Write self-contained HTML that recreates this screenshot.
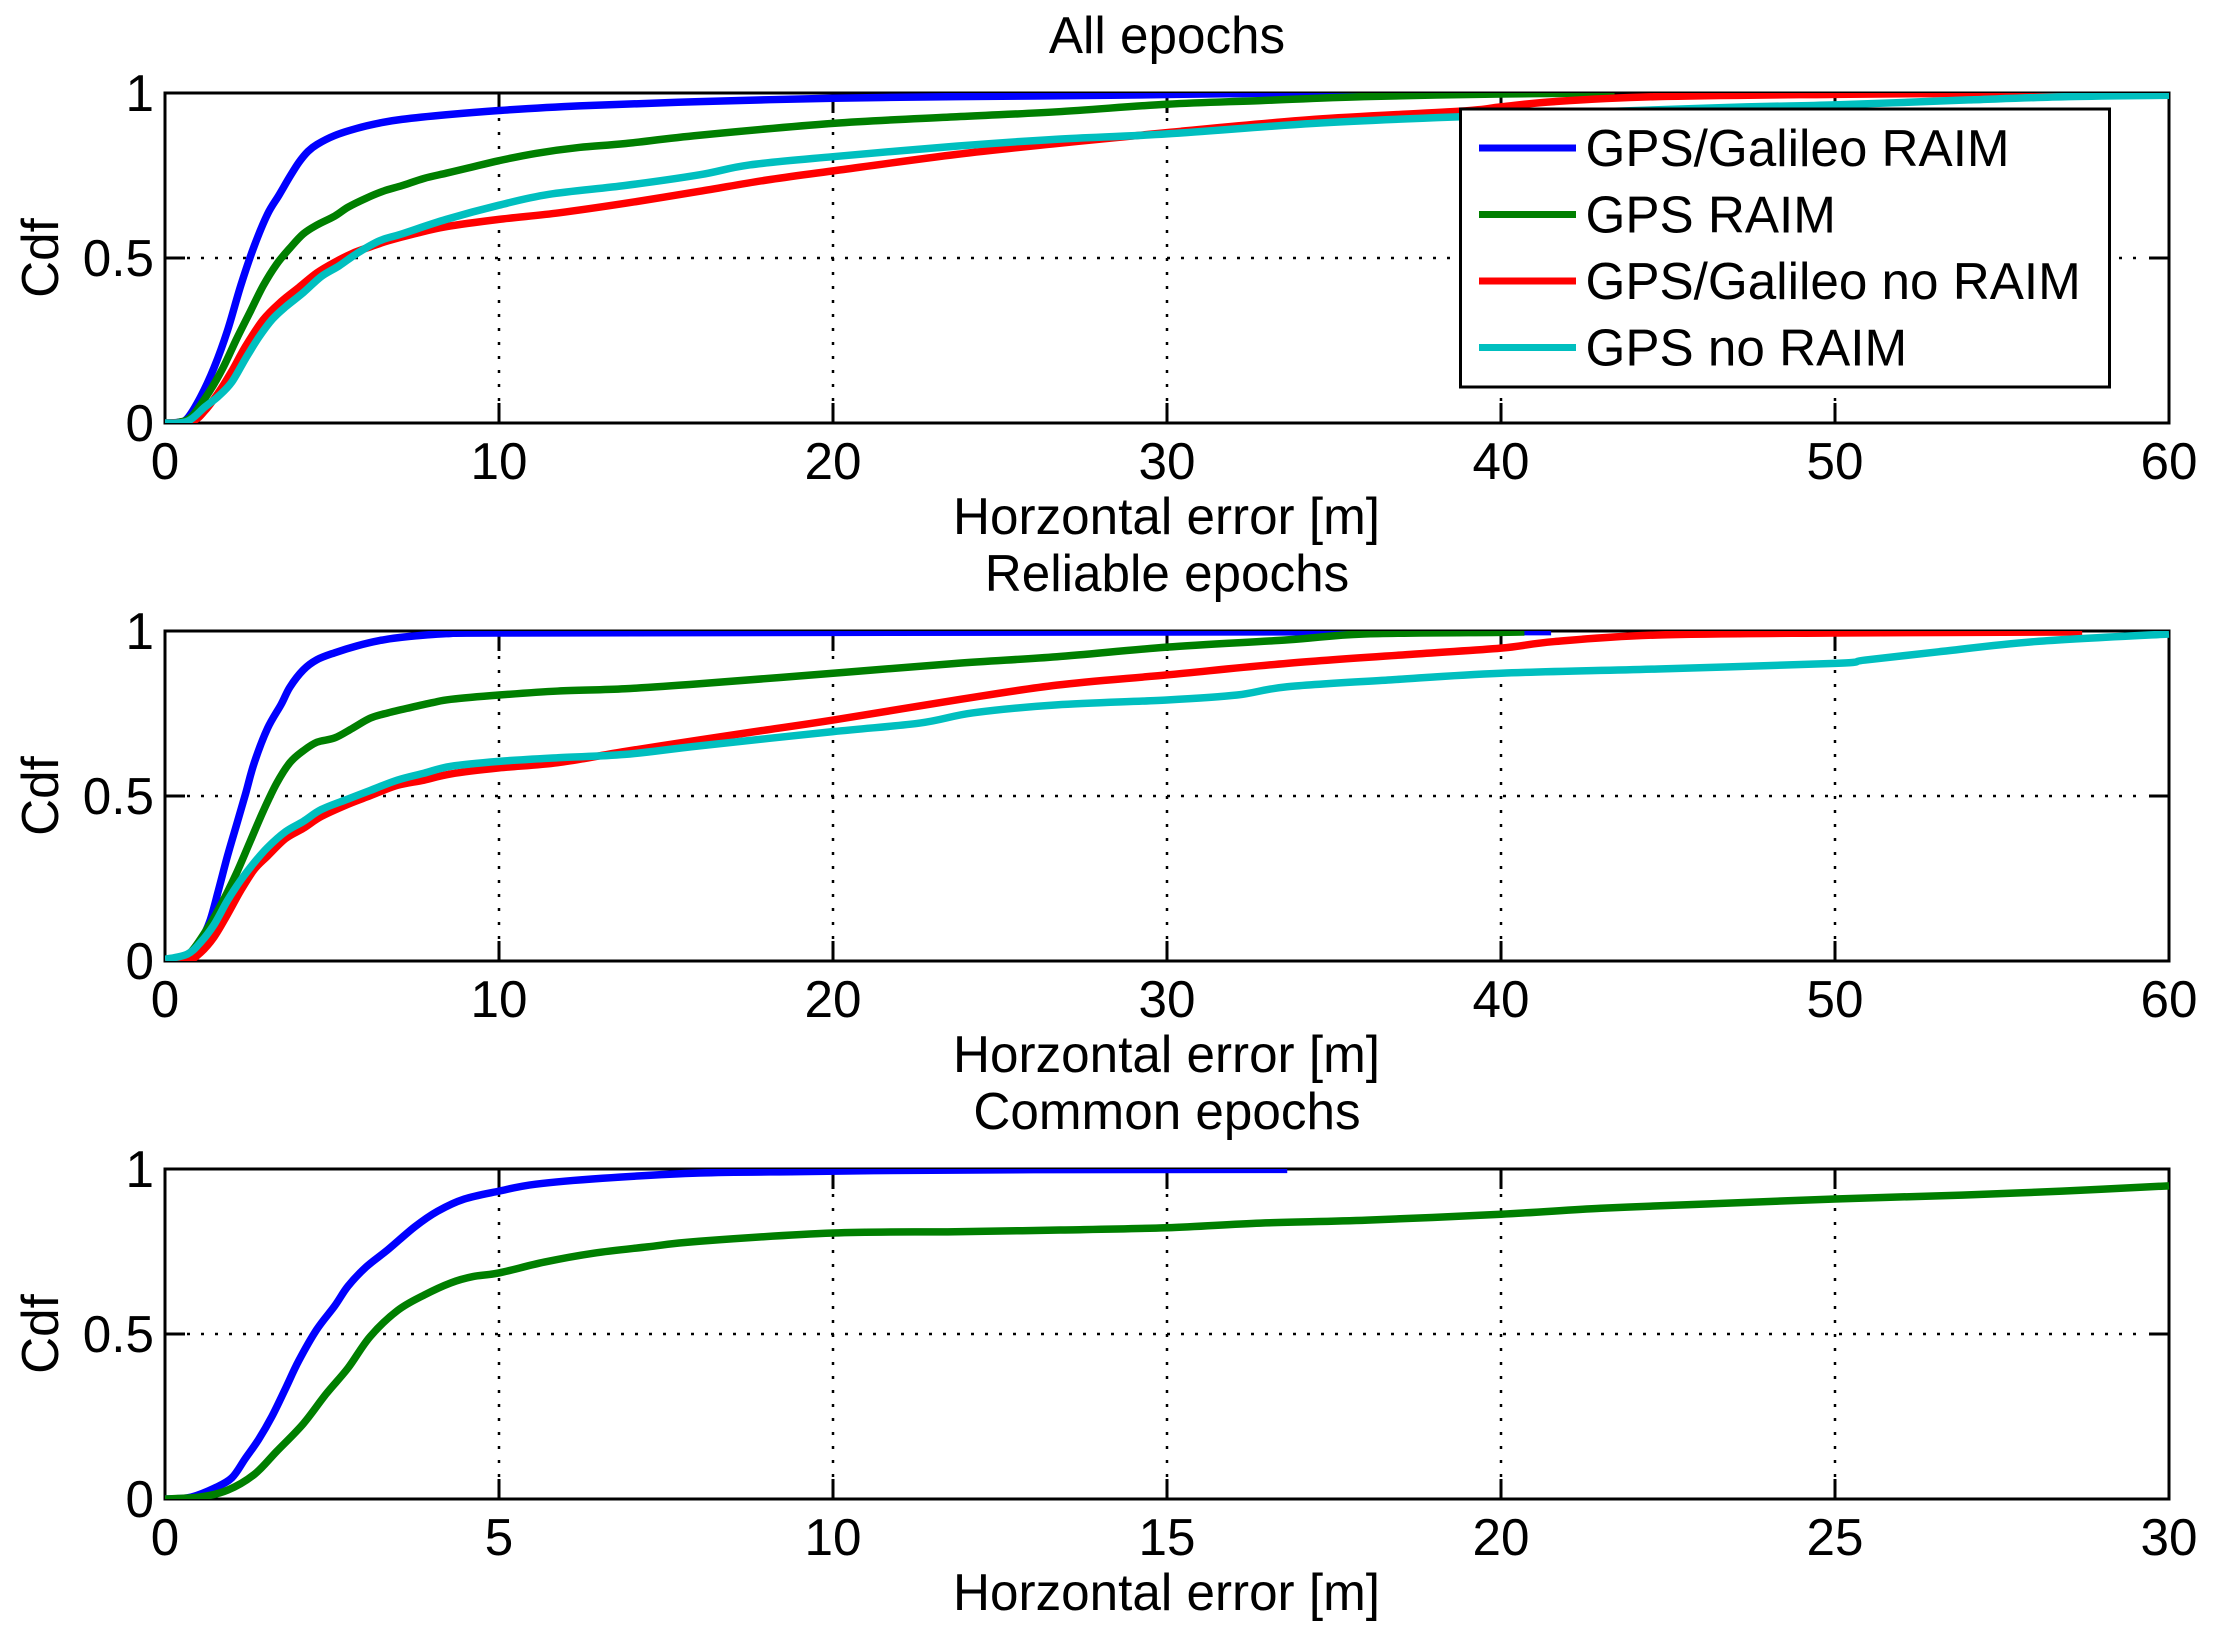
<!DOCTYPE html>
<html lang="en">
<head>
<meta charset="utf-8">
<title>Horizontal error CDF</title>
<style>
html,body{margin:0;padding:0;background:#fff;}
svg{display:block;}
text{font-family:"Liberation Sans",Arial,sans-serif;fill:#000;}
</style>
</head>
<body>
<svg id="chart" xmlns="http://www.w3.org/2000/svg" width="2213" height="1646" viewBox="0 0 2213 1646">
  <rect x="0" y="0" width="2213" height="1646" fill="#fff"/>
  <g id="panel-all"></g>
  <g id="panel-reliable"></g>
  <g id="panel-common"></g>

  <text transform="translate(1167,53) scale(0.985,1)" font-size="52" text-anchor="middle">All epochs</text>
  <text transform="translate(1167,591) scale(0.985,1)" font-size="52" text-anchor="middle">Reliable epochs</text>
  <text transform="translate(1167,1129) scale(0.985,1)" font-size="52" text-anchor="middle">Common epochs</text>

  <text transform="translate(1166.5,534) scale(0.985,1)" font-size="52" text-anchor="middle">Horzontal error [m]</text>
  <text transform="translate(1166.5,1072) scale(0.985,1)" font-size="52" text-anchor="middle">Horzontal error [m]</text>
  <text transform="translate(1166.5,1610) scale(0.985,1)" font-size="52" text-anchor="middle">Horzontal error [m]</text>

  <text transform="translate(58,258) rotate(-90) scale(0.985,1)" font-size="52" text-anchor="middle">Cdf</text>
  <text transform="translate(58,796) rotate(-90) scale(0.985,1)" font-size="52" text-anchor="middle">Cdf</text>
  <text transform="translate(58,1334) rotate(-90) scale(0.985,1)" font-size="52" text-anchor="middle">Cdf</text>

  <g>
    <rect x="1460.5" y="109" width="649" height="278" fill="#fff" stroke="#000" stroke-width="3"/>
    <g>
      <rect x="1479" y="144.5" width="97" height="7" fill="#0000ff"/>
      <text transform="translate(1585.5,166) scale(0.985,1)" font-size="52">GPS/Galileo RAIM</text>
    </g>
    <g>
      <rect x="1479" y="211" width="97" height="7" fill="#007f00"/>
      <text transform="translate(1585.5,232.5) scale(0.985,1)" font-size="52">GPS RAIM</text>
    </g>
    <g>
      <rect x="1479" y="277.5" width="97" height="7" fill="#ff0000"/>
      <text transform="translate(1585.5,299) scale(0.985,1)" font-size="52">GPS/Galileo no RAIM</text>
    </g>
    <g>
      <rect x="1479" y="344" width="97" height="7" fill="#00bfbf"/>
      <text transform="translate(1585.5,365.5) scale(0.985,1)" font-size="52">GPS no RAIM</text>
    </g>
  </g>
</svg>
<script>
// Axis tick labels
var xTicksWide = [0, 10, 20, 30, 40, 50, 60];
var xTicksCommon = [0, 5, 10, 15, 20, 25, 30];
var yTicks = [0, 0.5, 1];

// Panel 1: All epochs
var allBlueX = [0,0.4,0.67,1.07,1.47,1.87,2.27,2.67,3.07,3.41,3.74,4.01,4.28,4.55,5.08,5.75,6.42,7.09,8.42,10,12.4,16,20,23.7,28.3,32,36];
var allBlueY = [0,0.002,0.014,0.08,0.168,0.28,0.417,0.536,0.633,0.69,0.747,0.79,0.823,0.844,0.871,0.893,0.909,0.92,0.934,0.947,0.961,0.974,0.984,0.989,0.993,0.998,1];
var allGreenX = [0,0.4,0.8,1.34,1.74,2.14,2.54,2.94,3.34,3.74,4.14,4.55,5.08,5.48,6.02,6.55,7.09,7.75,8.42,9.09,10,11.1,12.4,13.8,16,20,23.7,26.7,30,32.8,35.9,40,43.4];
var allGreenY = [0,0.002,0.02,0.097,0.168,0.254,0.335,0.416,0.481,0.53,0.573,0.6,0.627,0.654,0.681,0.703,0.719,0.741,0.757,0.773,0.795,0.817,0.835,0.847,0.872,0.908,0.928,0.943,0.966,0.977,0.989,0.997,1];
var allRedX = [0,0.8,1.2,1.6,2,2.41,2.94,3.48,4.01,4.55,5.08,5.61,6.15,6.68,7.49,8.42,10,11.8,13.8,16,18,20,23.7,26.7,30,34.4,38.8,40,41.6,44.7,50,54,57];
var allRedY = [0,0.005,0.038,0.092,0.157,0.232,0.313,0.368,0.411,0.455,0.487,0.514,0.534,0.552,0.574,0.595,0.617,0.637,0.666,0.702,0.736,0.764,0.814,0.847,0.88,0.92,0.945,0.958,0.974,0.989,0.996,0.999,1];
var allCyanX = [0,0.67,1.2,1.6,2,2.41,2.81,3.21,3.61,4.14,4.68,5.21,5.75,6.42,7.09,8.42,10,11.5,13.8,16,17.5,20,23.7,26.7,30,34.4,38.5,46.4,50,54,57,60];
var allCyanY = [0,0.005,0.049,0.081,0.124,0.195,0.26,0.314,0.352,0.395,0.444,0.476,0.514,0.552,0.573,0.617,0.66,0.693,0.72,0.752,0.782,0.807,0.839,0.86,0.876,0.908,0.927,0.955,0.964,0.979,0.989,0.993];

// Panel 2: Reliable epochs
var relBlueX = [0,0.3,0.67,1.07,1.34,1.6,1.87,2.14,2.41,2.67,3.07,3.48,3.74,4.14,4.55,5.08,5.75,6.42,7.09,8.42,10,20,41.5];
var relBlueY = [0,0.003,0.016,0.063,0.12,0.214,0.318,0.412,0.506,0.6,0.705,0.778,0.83,0.882,0.913,0.934,0.955,0.971,0.981,0.992,0.994,0.996,0.998];
var relGreenX = [0,0.4,0.8,1.34,1.74,2.14,2.54,2.94,3.34,3.74,4.14,4.55,5.08,5.61,6.15,6.68,7.35,8.02,8.56,10,11.76,13.77,16,20,23.7,26.7,30,33.6,35.9,40,40.7];
var relGreenY = [0,0.005,0.03,0.11,0.183,0.266,0.36,0.454,0.538,0.601,0.637,0.663,0.676,0.705,0.736,0.752,0.768,0.783,0.793,0.806,0.818,0.825,0.84,0.872,0.902,0.922,0.951,0.973,0.991,0.996,0.997];
var relRedX = [0,0.67,1.07,1.47,1.87,2.27,2.67,3.07,3.61,4.14,4.68,5.48,6.15,6.95,7.75,8.56,10,11.76,13.77,16,18,20,23.7,26.7,30,33.6,37.4,40,41.6,44.7,50,57.4];
var relRedY = [0,0,0.026,0.073,0.141,0.214,0.277,0.318,0.371,0.402,0.438,0.475,0.501,0.532,0.548,0.567,0.585,0.601,0.635,0.67,0.7,0.73,0.791,0.836,0.867,0.902,0.93,0.948,0.968,0.988,0.994,0.997];
var relCyanX = [0,0.67,1.07,1.47,1.87,2.27,2.67,3.07,3.61,4.14,4.68,5.48,6.15,6.95,7.75,8.56,10,11.76,13.77,16,20,22.6,24.2,26.7,30,32.1,33.6,36.7,40,44.7,50,50.9,53.1,56,60];
var relCyanY = [0.005,0.021,0.057,0.11,0.183,0.245,0.298,0.344,0.392,0.423,0.459,0.491,0.517,0.548,0.569,0.59,0.605,0.616,0.626,0.652,0.695,0.721,0.752,0.776,0.791,0.806,0.831,0.852,0.872,0.885,0.902,0.912,0.937,0.968,0.991];

// Panel 3: Common epochs
var comBlueX = [0,0.2,0.4,0.74,1,1.2,1.4,1.6,1.8,2,2.27,2.54,2.74,3.01,3.34,3.74,4.08,4.48,5,5.55,6.55,8,9.5,10.6,13,16.8];
var comBlueY = [0,0.001,0.006,0.033,0.064,0.122,0.18,0.25,0.333,0.418,0.513,0.585,0.645,0.703,0.756,0.825,0.872,0.909,0.933,0.954,0.972,0.988,0.992,0.995,0.998,0.999];
var comGreenX = [0,0.53,0.94,1.34,1.67,2.07,2.41,2.74,3.07,3.48,3.88,4.28,4.61,5,5.68,6.42,7.22,8,10,11.83,13.4,15,16.4,18,20,21.5,23.07,25,26.9,28.4,30];
var comGreenY = [0,0.006,0.027,0.075,0.144,0.228,0.318,0.397,0.492,0.571,0.618,0.655,0.674,0.685,0.718,0.745,0.764,0.781,0.806,0.81,0.815,0.822,0.836,0.845,0.863,0.881,0.894,0.909,0.921,0.933,0.949];

// Axes layout
var plotLeft = 165;
var plotWidth = 2004;
var plotHeight = 330;
var SVGNS = 'http://www.w3.org/2000/svg';

function xScale(value, xMax) {
  return plotLeft + (value / xMax) * plotWidth;
}
function yScale(value, top) {
  return top + plotHeight - value * plotHeight;
}
function make(tag, attrs) {
  var el = document.createElementNS(SVGNS, tag);
  for (var key in attrs) { el.setAttribute(key, attrs[key]); }
  return el;
}
function drawCurve(group, clipId, xs, ys, xMax, top, color, name) {
  var px = xs.map(function (v) { return xScale(v, xMax); });
  var py = ys.map(function (v) { return yScale(v, top); });
  var n = px.length;
  var d = 'M' + px[0].toFixed(2) + ' ' + py[0].toFixed(2);
  for (var i = 0; i < n - 1; i++) {
    var a = Math.max(i - 1, 0), b = Math.min(i + 2, n - 1);
    var c1x = px[i] + (px[i + 1] - px[a]) / 6;
    var c1y = py[i] + (py[i + 1] - py[a]) / 6;
    var c2x = px[i + 1] - (px[b] - px[i]) / 6;
    var c2y = py[i + 1] - (py[b] - py[i]) / 6;
    d += 'C' + c1x.toFixed(2) + ' ' + c1y.toFixed(2) + ' ' + c2x.toFixed(2) + ' ' + c2y.toFixed(2) + ' ' + px[i + 1].toFixed(2) + ' ' + py[i + 1].toFixed(2);
  }
  var path = make('path', {d: d, fill: 'none', stroke: color, 'stroke-width': 7.5, 'stroke-linejoin': 'round', 'clip-path': 'url(#' + clipId + ')'});
  
  
  group.appendChild(path);
}
function drawAxes(group, clipId, ticks, xMax, top) {
  var defs = make('defs', {});
  var clip = make('clipPath', {id: clipId});
  clip.appendChild(make('rect', {x: plotLeft, y: top, width: plotWidth + 1, height: plotHeight}));
  defs.appendChild(clip);
  group.appendChild(defs);
  var bottom = top + plotHeight;
  var right = plotLeft + plotWidth;

  ticks.forEach(function (tick) {
    var x = xScale(tick, xMax);
    if (tick > 0 && tick < xMax) {
      var grid = make('line', {x1: x, x2: x, y1: bottom - 22, y2: top + 22, stroke: '#000', 'stroke-width': 2.5, 'stroke-dasharray': '3 11'});
      
      
      group.appendChild(grid);
      var tickLow = make('line', {x1: x, x2: x, y1: bottom, y2: bottom - 20, stroke: '#000', 'stroke-width': 3});
      
      
      group.appendChild(tickLow);
      var tickHigh = make('line', {x1: x, x2: x, y1: top, y2: top + 20, stroke: '#000', 'stroke-width': 3});
      
      
      group.appendChild(tickHigh);
    }
    var label = make('text', {transform: 'translate(' + x + ',' + (bottom + 56) + ') scale(0.985,1)', 'font-size': 52, 'text-anchor': 'middle'});
    
    
    label.textContent = String(tick);
    group.appendChild(label);
  });

  yTicks.forEach(function (tick) {
    var y = yScale(tick, top);
    if (tick > 0 && tick < 1) {
      var grid = make('line', {x1: plotLeft + 22, x2: right - 22, y1: y, y2: y, stroke: '#000', 'stroke-width': 2.5, 'stroke-dasharray': '3 11'});
      
      
      group.appendChild(grid);
      var tickLeft = make('line', {x1: plotLeft, x2: plotLeft + 20, y1: y, y2: y, stroke: '#000', 'stroke-width': 3});
      
      
      group.appendChild(tickLeft);
      var tickRight = make('line', {x1: right, x2: right - 20, y1: y, y2: y, stroke: '#000', 'stroke-width': 3});
      
      
      group.appendChild(tickRight);
    }
    var label = make('text', {transform: 'translate(154,' + (y + 18) + ') scale(0.985,1)', 'font-size': 52, 'text-anchor': 'end'});
    
    
    label.textContent = String(tick);
    group.appendChild(label);
  });

  var box = make('rect', {x: plotLeft, y: top, width: plotWidth, height: plotHeight, fill: 'none', stroke: '#000', 'stroke-width': 3});
  
  
  group.appendChild(box);
}

var blue = '#0000ff', green = '#007f00', red = '#ff0000', cyan = '#00bfbf';

var g1 = document.getElementById('panel-all');
drawAxes(g1, 'clip-all', xTicksWide, 60, 93);
drawCurve(g1, 'clip-all', allBlueX, allBlueY, 60, 93, blue, 'line-gps-galileo-raim');
drawCurve(g1, 'clip-all', allGreenX, allGreenY, 60, 93, green, 'line-gps-raim');
drawCurve(g1, 'clip-all', allRedX, allRedY, 60, 93, red, 'line-gps-galileo-no-raim');
drawCurve(g1, 'clip-all', allCyanX, allCyanY, 60, 93, cyan, 'line-gps-no-raim');

var g2 = document.getElementById('panel-reliable');
drawAxes(g2, 'clip-reliable', xTicksWide, 60, 631);
drawCurve(g2, 'clip-reliable', relBlueX, relBlueY, 60, 631, blue, 'line-gps-galileo-raim');
drawCurve(g2, 'clip-reliable', relGreenX, relGreenY, 60, 631, green, 'line-gps-raim');
drawCurve(g2, 'clip-reliable', relRedX, relRedY, 60, 631, red, 'line-gps-galileo-no-raim');
drawCurve(g2, 'clip-reliable', relCyanX, relCyanY, 60, 631, cyan, 'line-gps-no-raim');

var g3 = document.getElementById('panel-common');
drawAxes(g3, 'clip-common', xTicksCommon, 30, 1169);
drawCurve(g3, 'clip-common', comBlueX, comBlueY, 30, 1169, blue, 'line-gps-galileo-raim');
drawCurve(g3, 'clip-common', comGreenX, comGreenY, 30, 1169, green, 'line-gps-raim');
</script>
</body>
</html>
